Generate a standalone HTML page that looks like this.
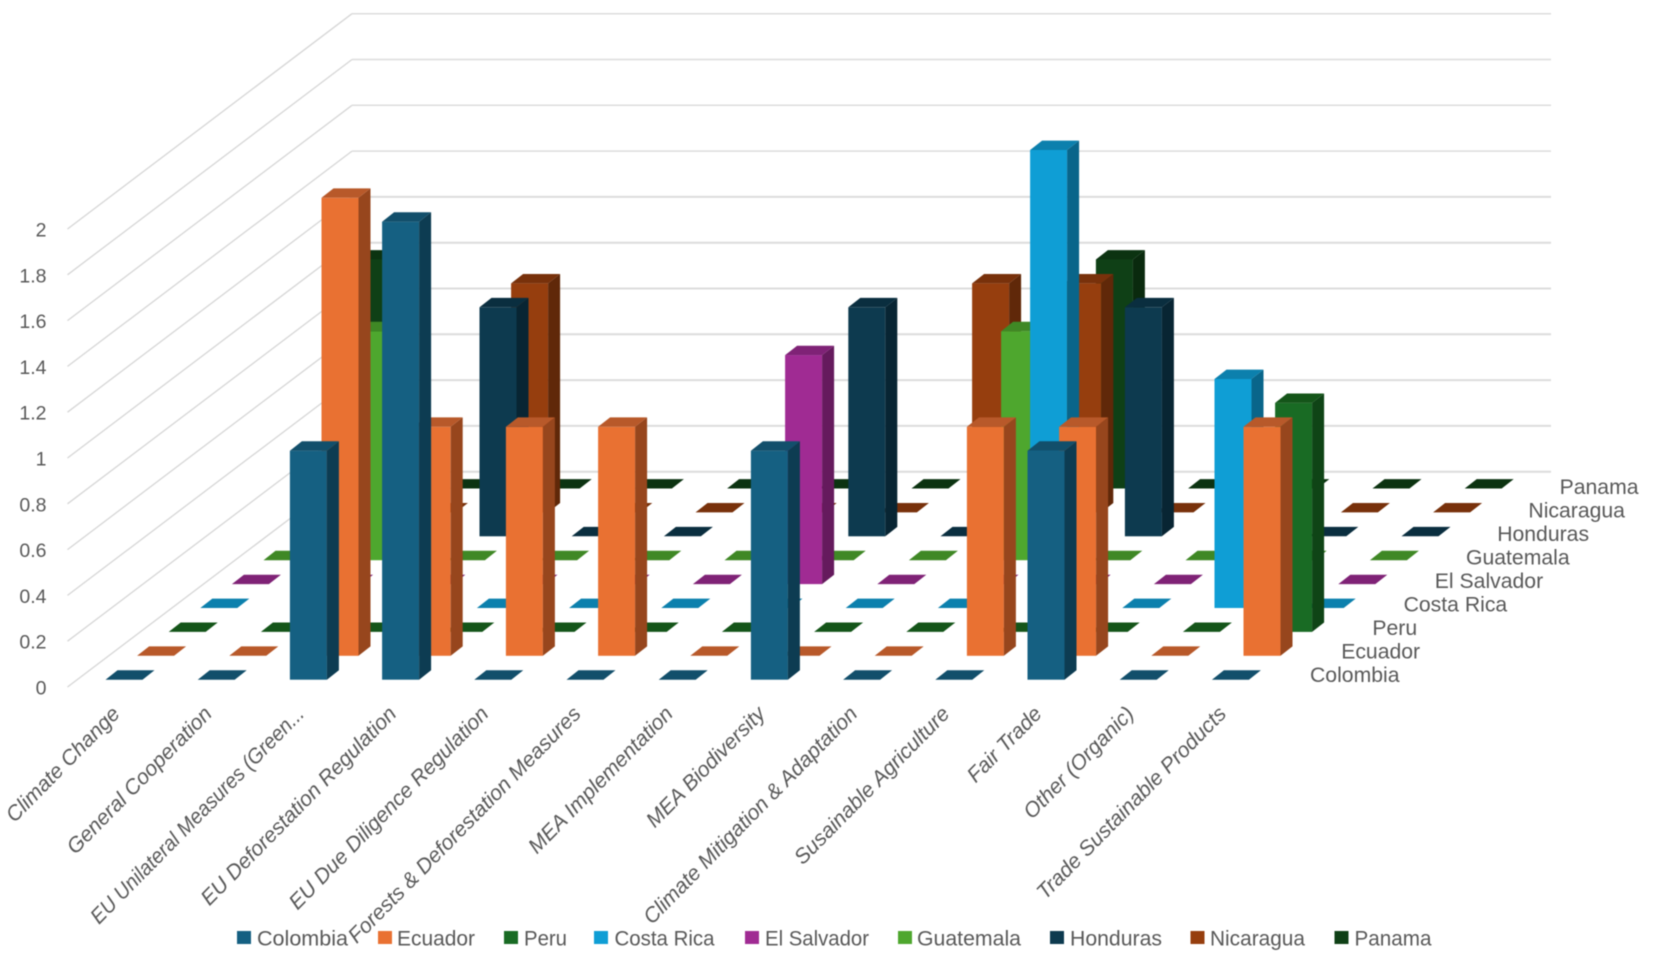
<!DOCTYPE html>
<html lang="en">
<head>
<meta charset="utf-8">
<title>3D column chart of sustainability provisions by country</title>
<style>
  html, body { margin: 0; padding: 0; background: #ffffff; }
  body { width: 1654px; height: 966px; overflow: hidden; }
  #chart { display: block; filter: blur(0.45px); }
  text { font-family: "Liberation Sans", sans-serif; fill: #595959; }
</style>
</head>
<body>
<svg id="chart" xmlns="http://www.w3.org/2000/svg" width="1654" height="966" viewBox="0 0 1654 966">
  <rect x="0" y="0" width="1654" height="966" fill="#ffffff"/>
  <g id="grid"></g>
  <g id="bars"></g>
  <g id="y-axis"></g>
  <g id="series-axis"></g>
  <g id="cat-axis"></g>
  <g id="legend" font-size="21">
    <g><rect x="237" y="931" width="14" height="13" fill="#156082"/><text x="257" y="945.5" textLength="91" lengthAdjust="spacingAndGlyphs">Colombia</text></g>
    <g><rect x="378" y="931" width="14" height="13" fill="#e97132"/><text x="397" y="945.5" textLength="78" lengthAdjust="spacingAndGlyphs">Ecuador</text></g>
    <g><rect x="504" y="931" width="14" height="13" fill="#196b24"/><text x="524" y="945.5" textLength="43" lengthAdjust="spacingAndGlyphs">Peru</text></g>
    <g><rect x="594" y="931" width="14" height="13" fill="#0f9ed5"/><text x="614.5" y="945.5" textLength="100" lengthAdjust="spacingAndGlyphs">Costa Rica</text></g>
    <g><rect x="745" y="931" width="14" height="13" fill="#a02b93"/><text x="765" y="945.5" textLength="104" lengthAdjust="spacingAndGlyphs">El Salvador</text></g>
    <g><rect x="898" y="931" width="14" height="13" fill="#4ea72e"/><text x="917" y="945.5" textLength="104" lengthAdjust="spacingAndGlyphs">Guatemala</text></g>
    <g><rect x="1050" y="931" width="14" height="13" fill="#0d3a4f"/><text x="1070" y="945.5" textLength="92" lengthAdjust="spacingAndGlyphs">Honduras</text></g>
    <g><rect x="1190.5" y="931" width="14" height="13" fill="#963e0e"/><text x="1210" y="945.5" textLength="95" lengthAdjust="spacingAndGlyphs">Nicaragua</text></g>
    <g><rect x="1334.5" y="931" width="14" height="13" fill="#0f4016"/><text x="1354.5" y="945.5" textLength="77" lengthAdjust="spacingAndGlyphs">Panama</text></g>
  </g>
</svg>
<script>
// ---- Chart data ----
const categories = ['Climate Change', 'General Cooperation', 'EU Unilateral Measures (Green...', 'EU Deforestation Regulation', 'EU Due Diligence Regulation', 'Forests & Deforestation Measures', 'MEA Implementation', 'MEA Biodiversity', 'Climate Mitigation & Adaptation', 'Susainable Agriculture', 'Fair Trade', 'Other (Organic)', 'Trade Sustainable Products'];
const seriesNames = ['Colombia', 'Ecuador', 'Peru', 'Costa Rica', 'El Salvador', 'Guatemala', 'Honduras', 'Nicaragua', 'Panama'];
const valueTicks = ['0', '0.2', '0.4', '0.6', '0.8', '1', '1.2', '1.4', '1.6', '1.8', '2'];
const colombia  = [0, 0, 1, 2, 0, 0, 0, 1, 0, 0, 1, 0, 0];
const ecuador   = [0, 0, 2, 1, 1, 1, 0, 0, 0, 1, 1, 0, 1];
const peru      = [0, 0, 0, 0, 0, 0, 0, 0, 0, 0, 0, 0, 1];
const costaRica = [0, 0, 0, 0, 0, 0, 0, 0, 0, 2, 0, 1, 0];
const elSalvador= [0, 0, 0, 0, 0, 0, 1, 0, 0, 0, 0, 0, 0];
const guatemala = [0, 1, 0, 0, 0, 0, 0, 0, 1, 0, 0, 0, 0];
const honduras  = [0, 0, 1, 0, 0, 0, 1, 0, 0, 1, 0, 0, 0];
const nicaragua = [0, 0, 1, 0, 0, 0, 0, 1, 1, 0, 0, 0, 0];
const panama    = [1, 0, 0, 0, 0, 0, 0, 0, 1, 0, 0, 0, 0];
const seriesValues = [colombia, ecuador, peru, costaRica, elSalvador, guatemala, honduras, nicaragua, panama];
const frontColors = ['#156082', '#e97132', '#196b24', '#0f9ed5', '#a02b93', '#4ea72e', '#0d3a4f', '#963e0e', '#0f4016'];
const sideColors  = ['#0d3c52', '#97461d', '#0f4416', '#09658a', '#651a5d', '#316a1c', '#082533', '#602809', '#0a2a0e'];
const topColors   = ['#124f6b', '#b8592a', '#145519', '#0c80ad', '#7f2276', '#3f8825', '#0a2e3f', '#78310b', '#0c3311'];

// ---- Projection / axis functions ----
const SVGNS = 'http://www.w3.org/2000/svg';
const barW = 37, depthX = 12, depthY = 9.4;
function catX(cat, row) { return 105.5 + 92.2 * cat + 31.6 * row; }
function rowBase(row) { return 679.7 - 23.9 * row; }
function valueH(v) { return v * 229; }
function slug(s) { return s.toLowerCase().replace(/[^a-z0-9]+/g, '-').replace(/^-|-$/g, ''); }
function mk(tag, parent) {
  const el = document.createElementNS(SVGNS, tag);
  parent.appendChild(el);
  return el;
}
function poly(parent, pts, fill) {
  const el = mk('polygon', parent);
  el.setAttribute('points', pts.map(p => p[0].toFixed(2) + ',' + p[1].toFixed(2)).join(' '));
  el.setAttribute('fill', fill);
  return el;
}

// ---- Gridlines ----
const gridG = document.getElementById('grid');
valueTicks.forEach(function (t) {
  const val = parseFloat(t);
  const h = valueH(val);
  const side = mk('line', gridG);
  
  
  side.setAttribute('x1', 67.5);
  side.setAttribute('y1', 687 - h);
  side.setAttribute('x2', 352);
  side.setAttribute('y2', 471.7 - h);
  side.setAttribute('stroke', '#d6d6d6');
  side.setAttribute('stroke-width', '1.3');
  const back = mk('line', gridG);
  
  
  back.setAttribute('x1', 352);
  back.setAttribute('y1', 471.7 - h);
  back.setAttribute('x2', 1551);
  back.setAttribute('y2', 471.7 - h);
  back.setAttribute('stroke', '#dcdcdc');
  back.setAttribute('stroke-width', val > 1.25 ? '1.5' : '2');
});

// ---- Bars (back row first, left to right) ----
const barsG = document.getElementById('bars');
for (let r = seriesNames.length - 1; r >= 0; r--) {
  const values = seriesValues[r];
  for (let c = 0; c < categories.length; c++) {
    const v = values[c];
    const x = catX(c, r);
    const base = rowBase(r);
    const h = valueH(v);
    const top = base - h;
    const g = mk('g', barsG);
    
    
    if (v > 0) {
      const front = mk('rect', g);
      front.setAttribute('x', x);
      front.setAttribute('y', top);
      front.setAttribute('width', barW);
      front.setAttribute('height', h);
      front.setAttribute('fill', frontColors[r]);
      poly(g, [[x + barW, base], [x + barW + depthX, base - depthY], [x + barW + depthX, top - depthY], [x + barW, top]], sideColors[r]);
    }
    poly(g, [[x, top], [x + depthX, top - depthY], [x + barW + depthX, top - depthY], [x + barW, top]], topColors[r]);
  }
}

// ---- Value axis labels ----
const yG = document.getElementById('y-axis');
valueTicks.forEach(function (t) {
  const el = mk('text', yG);
  
  
  el.setAttribute('x', 46.5);
  el.setAttribute('y', 687.5 - valueH(parseFloat(t)) + 7);
  el.setAttribute('text-anchor', 'end');
  el.setAttribute('font-size', '19.5');
  el.textContent = t;
});

// ---- Series axis labels ----
const sG = document.getElementById('series-axis');
seriesNames.forEach(function (name, r) {
  const el = mk('text', sG);
  
  
  el.setAttribute('x', 1310 + 31.2 * r);
  el.setAttribute('y', 675 - 23.5 * r + 7);
  el.setAttribute('font-size', '21.2');
  el.textContent = name;
});

// ---- Category axis labels ----
const cG = document.getElementById('cat-axis');
categories.forEach(function (name, i) {
  const el = mk('text', cG);
  
  
  const ax = 121 + 92.2 * i;
  const ay = 715;
  const fit = name.endsWith('...') ? ' scale(0.94,1)' : '';
  el.setAttribute('transform', 'translate(' + ax + ',' + ay + ') rotate(-45.5)' + fit);
  el.setAttribute('text-anchor', 'end');
  el.setAttribute('font-size', '21.2');
  el.setAttribute('font-style', 'italic');
  el.textContent = name;
});
</script>
</body>
</html>
